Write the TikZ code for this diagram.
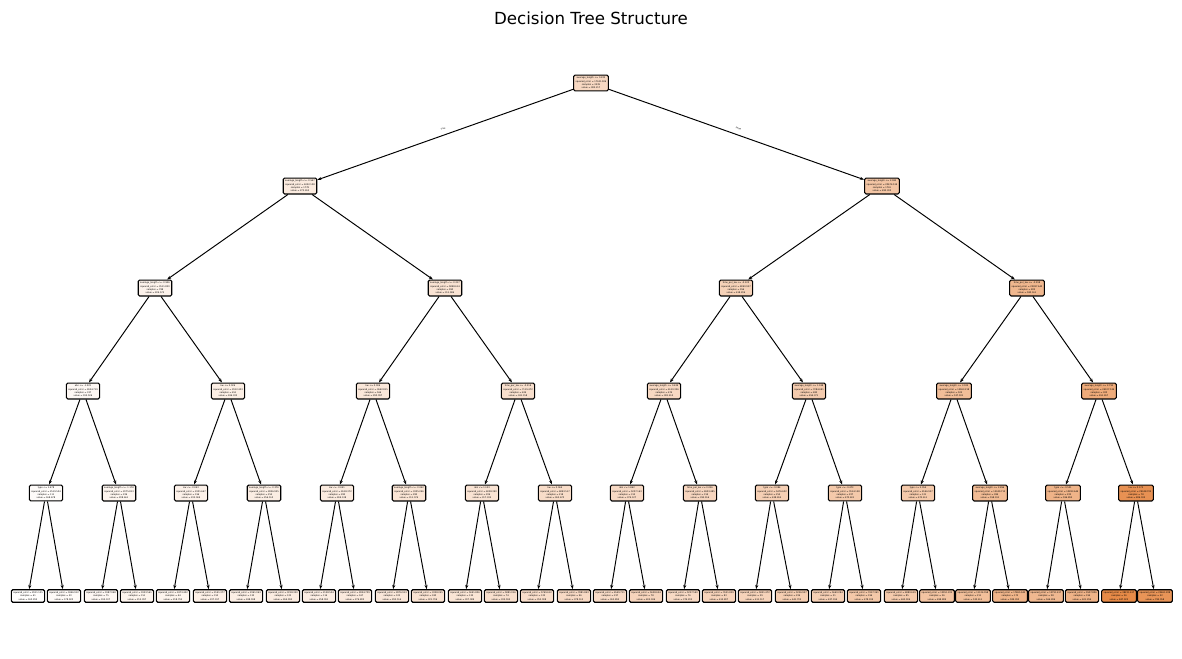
\documentclass[tikz,border=0pt]{standalone}
\usepackage{fontspec}
\setmainfont{DejaVu Sans}
\usetikzlibrary{arrows.meta}
\definecolor{treeorange}{RGB}{229,129,57}
\newcommand{\tnfont}{\fontsize{1.6}{2.4}\selectfont}
\tikzset{
  tnode/.style={draw, rounded corners=1pt, line width=0.8pt, align=center,
    font=\tnfont, inner xsep=1.4pt, inner ysep=1.5pt},
  edge/.style={line width=0.7pt, -{Stealth[length=3pt,width=2.2pt]}},
  branch/.style={font=\tnfont, midway, sloped, above=0.2pt}
}
\begin{document}
\begin{tikzpicture}[x=0.72pt, y=-0.72pt]
    \useasboundingbox (0,0) rectangle (1182,658);
    \node [font=\fontsize{12}{14}\selectfont] (title) at (591,18) {Decision Tree Structure};
    % root
    \node [tnode, fill=treeorange!31!white] (a1) at (591,83)
        {average\_length <= 0.222\\squared\_error = 17341.906\\samples = 3539\\value = 382.217};
    % depth 1
    \node [tnode, fill=treeorange!16!white] (b1) at (300,186)
        {average\_length <= -0.547\\squared\_error = 6352.108\\samples = 1778\\value = 273.263};
    \node [tnode, fill=treeorange!46!white] (b2) at (882,186)
        {average\_length <= 2.083\\squared\_error = 20674.519\\samples = 1761\\value = 492.300};
    % depth 2
    \node [tnode, fill=treeorange!10!white] (c1) at (155,288)
        {average\_length <= -0.956\\squared\_error = 3511.820\\samples = 788\\value = 224.575};
    \node [tnode, fill=treeorange!22!white] (c2) at (445,288)
        {average\_length <= -0.217\\squared\_error = 5898.614\\samples = 990\\value = 311.986};
    \node [tnode, fill=treeorange!36!white] (c3) at (736,288)
        {time\_per\_kw <= -0.120\\squared\_error = 8240.937\\samples = 956\\value = 418.206};
    \node [tnode, fill=treeorange!57!white] (c4) at (1027,288)
        {time\_per\_kw <= -0.298\\squared\_error = 22387.640\\samples = 805\\value = 580.161};
    % depth 3
    \node [tnode, fill=treeorange!6!white] (d1) at (83,391)
        {abs <= -1.223\\squared\_error = 2624.719\\samples = 337\\value = 195.526};
    \node [tnode, fill=treeorange!13!white] (d2) at (228,391)
        {kw <= 0.026\\squared\_error = 2912.403\\samples = 451\\value = 246.332};
    \node [tnode, fill=treeorange!19!white] (d3) at (373,391)
        {kw <= 0.006\\squared\_error = 3642.815\\samples = 566\\value = 290.097};
    \node [tnode, fill=treeorange!25!white] (d4) at (518,391)
        {time\_per\_kw <= -0.318\\squared\_error = 7119.472\\samples = 424\\value = 341.158};
    \node [tnode, fill=treeorange!31!white] (d5) at (664,391)
        {average\_length <= 0.439\\squared\_error = 6110.326\\samples = 474\\value = 381.413};
    \node [tnode, fill=treeorange!41!white] (d6) at (809,391)
        {average\_length <= 1.188\\squared\_error = 7284.691\\samples = 482\\value = 454.371};
    \node [tnode, fill=treeorange!52!white] (d7) at (954,391)
        {average\_length <= 3.025\\squared\_error = 15963.218\\samples = 505\\value = 537.931};
    \node [tnode, fill=treeorange!67!white] (d8) at (1099,391)
        {average\_length <= 2.792\\squared\_error = 24107.534\\samples = 300\\value = 651.267};
    % depth 4
    \node [tnode, fill=treeorange!3!white] (e1) at (46,493)
        {type <= 1.478\\squared\_error = 2519.504\\samples = 111\\value = 168.678};
    \node [tnode, fill=treeorange!8!white] (e2) at (119,493)
        {average\_length <= -1.178\\squared\_error = 2075.813\\samples = 226\\value = 208.661};
    \node [tnode, fill=treeorange!11!white] (e3) at (191,493)
        {kw <= -0.043\\squared\_error = 2301.647\\samples = 196\\value = 233.069};
    \node [tnode, fill=treeorange!14!white] (e4) at (264,493)
        {average\_length <= -0.376\\squared\_error = 2836.925\\samples = 255\\value = 256.510};
    \node [tnode, fill=treeorange!16!white] (e5) at (337,493)
        {kw <= -0.041\\squared\_error = 2618.372\\samples = 283\\value = 269.138};
    \node [tnode, fill=treeorange!21!white] (e6) at (409,493)
        {average\_length <= -0.042\\squared\_error = 3305.246\\samples = 283\\value = 311.074};
    \node [tnode, fill=treeorange!22!white] (e7) at (482,493)
        {abs <= 1.123\\squared\_error = 6028.390\\samples = 206\\value = 317.335};
    \node [tnode, fill=treeorange!28!white] (e8) at (555,493)
        {kw <= 0.064\\squared\_error = 6893.517\\samples = 218\\value = 363.670};
    \node [tnode, fill=treeorange!30!white] (e9) at (627,493)
        {abs <= 1.862\\squared\_error = 5207.163\\samples = 315\\value = 374.127};
    \node [tnode, fill=treeorange!33!white] (e10) at (700,493)
        {time\_per\_kw <= 0.036\\squared\_error = 6903.485\\samples = 159\\value = 395.916};
    \node [tnode, fill=treeorange!38!white] (e11) at (772,493)
        {type <= -0.084\\squared\_error = 5476.602\\samples = 255\\value = 438.265};
    \node [tnode, fill=treeorange!43!white] (e12) at (845,493)
        {type <= -0.473\\squared\_error = 7614.158\\samples = 227\\value = 472.601};
    \node [tnode, fill=treeorange!43!white] (e13) at (918,493)
        {type <= 2.054\\squared\_error = 8146.937\\samples = 121\\value = 473.611};
    \node [tnode, fill=treeorange!54!white] (e14) at (990,493)
        {average\_length <= 2.896\\squared\_error = 15349.712\\samples = 384\\value = 558.191};
    \node [tnode, fill=treeorange!60!white] (e15) at (1063,493)
        {type <= -0.521\\squared\_error = 10283.644\\samples = 222\\value = 596.893};
    \node [tnode, fill=treeorange!87!white] (e16) at (1136,493)
        {kw <= 0.173\\squared\_error = 29348.705\\samples = 78\\value = 806.033};
    % leaves
    \node [tnode, fill=treeorange!1!white] (f1) at (28,596) {squared\_error = 2911.105\\samples = 61\\value = 160.295};
    \node [tnode, fill=treeorange!4!white] (f2) at (64,596) {squared\_error = 1846.912\\samples = 50\\value = 178.920};
    \node [tnode, fill=treeorange!6!white] (f3) at (101,596) {squared\_error = 1987.048\\samples = 75\\value = 195.107};
    \node [tnode, fill=treeorange!9!white] (f4) at (137,596) {squared\_error = 1923.561\\samples = 151\\value = 215.397};
    \node [tnode, fill=treeorange!9!white] (f5) at (173,596) {squared\_error = 2473.402\\samples = 44\\value = 218.795};
    \node [tnode, fill=treeorange!12!white] (f6) at (210,596) {squared\_error = 2141.377\\samples = 152\\value = 237.197};
    \node [tnode, fill=treeorange!13!white] (f7) at (246,596) {squared\_error = 2361.063\\samples = 132\\value = 248.598};
    \node [tnode, fill=treeorange!15!white] (f8) at (283,596) {squared\_error = 3218.330\\samples = 123\\value = 264.992};
    \node [tnode, fill=treeorange!14!white] (f9) at (319,596) {squared\_error = 2158.504\\samples = 116\\value = 258.091};
    \node [tnode, fill=treeorange!17!white] (f10) at (355,596) {squared\_error = 2854.709\\samples = 167\\value = 276.802};
    \node [tnode, fill=treeorange!19!white] (f11) at (392,596) {squared\_error = 2876.913\\samples = 103\\value = 292.514};
    \node [tnode, fill=treeorange!23!white] (f12) at (428,596) {squared\_error = 3328.245\\samples = 180\\value = 321.706};
    \node [tnode, fill=treeorange!21!white] (f13) at (465,596) {squared\_error = 5691.806\\samples = 132\\value = 307.089};
    \node [tnode, fill=treeorange!25!white] (f14) at (501,596) {squared\_error = 5881.016\\samples = 74\\value = 335.595};
    \node [tnode, fill=treeorange!27!white] (f15) at (537,596) {squared\_error = 5769.612\\samples = 122\\value = 352.008};
    \node [tnode, fill=treeorange!30!white] (f16) at (574,596) {squared\_error = 7881.843\\samples = 96\\value = 378.512};
    \node [tnode, fill=treeorange!29!white] (f17) at (610,596) {squared\_error = 4549.711\\samples = 237\\value = 363.895};
    \node [tnode, fill=treeorange!34!white] (f18) at (646,596) {squared\_error = 5638.654\\samples = 78\\value = 405.186};
    \node [tnode, fill=treeorange!30!white] (f19) at (683,596) {squared\_error = 5227.590\\samples = 76\\value = 374.203};
    \node [tnode, fill=treeorange!35!white] (f20) at (719,596) {squared\_error = 7651.829\\samples = 83\\value = 415.807};
    \node [tnode, fill=treeorange!35!white] (f21) at (755,596) {squared\_error = 5851.472\\samples = 29\\value = 411.517};
    \node [tnode, fill=treeorange!39!white] (f22) at (792,596) {squared\_error = 5256.937\\samples = 226\\value = 441.703};
    \node [tnode, fill=treeorange!38!white] (f23) at (828,596) {squared\_error = 5660.284\\samples = 31\\value = 437.194};
    \node [tnode, fill=treeorange!44!white] (f24) at (864,596) {squared\_error = 7417.361\\samples = 196\\value = 478.199};
    \node [tnode, fill=treeorange!42!white] (f25) at (901,596) {squared\_error = 4880.619\\samples = 85\\value = 462.906};
    \node [tnode, fill=treeorange!47!white] (f26) at (937,596) {squared\_error = 12951.203\\samples = 36\\value = 498.889};
    \node [tnode, fill=treeorange!51!white] (f27) at (973,596) {squared\_error = 11124.058\\samples = 211\\value = 532.611};
    \node [tnode, fill=treeorange!59!white] (f28) at (1010,596) {squared\_error = 17865.942\\samples = 173\\value = 589.392};
    \node [tnode, fill=treeorange!56!white] (f29) at (1046,596) {squared\_error = 13791.417\\samples = 28\\value = 566.286};
    \node [tnode, fill=treeorange!60!white] (f30) at (1082,596) {squared\_error = 9507.806\\samples = 194\\value = 601.294};
    \node [tnode, fill=treeorange!93!white] (f31) at (1119,596) {squared\_error = 38231.617\\samples = 26\\value = 847.923};
    \node [tnode, fill=treeorange!85!white] (f32) at (1155,596) {squared\_error = 23461.208\\samples = 52\\value = 785.058};
    % edges
    \draw [edge] (a1) -- (b1) node [branch] {True};
    \draw [edge] (a1) -- (b2) node [branch] {False};
    \foreach \p/\c/\n in {b/c/2, c/d/4, d/e/8, e/f/16} {
        \foreach \i in {1,...,\n} {
            \pgfmathtruncatemacro{\l}{2*\i-1}
            \pgfmathtruncatemacro{\r}{2*\i}
            \draw [edge] (\p\i) -- (\c\l);
            \draw [edge] (\p\i) -- (\c\r);
        }
    }
\end{tikzpicture}
\end{document}
